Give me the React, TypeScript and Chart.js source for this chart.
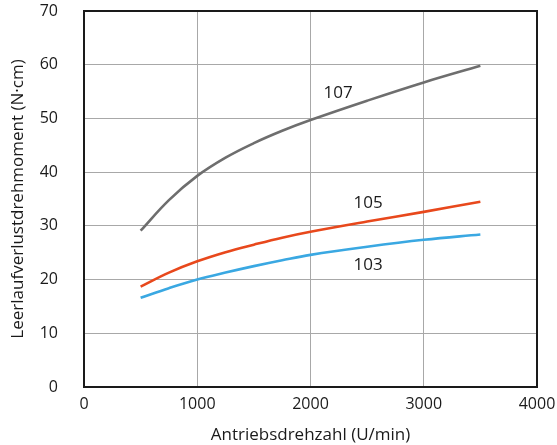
import React, { useEffect, useRef } from "react";
import { Chart, registerables } from "chart.js";

Chart.register(...registerables);

const speeds = [500, 750, 1000, 1250, 1500, 1750, 2000, 2500, 3000, 3500];
const torque107 = [29.1, 34.8, 39.3, 42.7, 45.4, 47.7, 49.7, 53.3, 56.7, 59.8];
const torque105 = [18.7, 21.3, 23.4, 25.1, 26.5, 27.8, 28.9, 30.8, 32.6, 34.5];
const torque103 = [16.6, 18.4, 20.0, 21.3, 22.5, 23.6, 24.6, 26.1, 27.4, 28.4];
const seriesNames = ["107", "105", "103"];
const seriesColors = ["#6e6e6e", "#e8481c", "#3aa8e2"];
const labelX = [2243, 2508, 2508];
const labelY = [54.7, 34.3, 22.7];
const FONT = "'Open Sans', 'Noto Sans', sans-serif";

export default function App() {
  const ref = useRef<HTMLCanvasElement>(null);
  useEffect(() => {
    document.body.style.margin = "0";
    const series = [torque107, torque105, torque103];
    const borderPlugin = {
      id: "frameAndLabels",
      afterDraw(chart: any) {
        const { ctx, chartArea: a, scales } = chart;
        ctx.save();
        ctx.strokeStyle = "#1a1a1a";
        ctx.lineWidth = 2;
        ctx.strokeRect(a.left, a.top, a.right - a.left, a.bottom - a.top);
        ctx.fillStyle = "#1a1a1a";
        ctx.font = `17px ${FONT}`;
        ctx.textAlign = "center";
        ctx.textBaseline = "middle";
        seriesNames.forEach((n, i) => {
          ctx.fillText(n, scales.x.getPixelForValue(labelX[i]), scales.y.getPixelForValue(labelY[i]));
        });
        ctx.restore();
      },
    };
    const chart = new Chart(ref.current!, {
      type: "line",
      data: {
        datasets: series.map((s, i) => ({
          label: seriesNames[i],
          data: speeds.map((x, j) => ({ x, y: s[j] })),
          borderColor: seriesColors[i],
          borderWidth: 2.6,
          pointRadius: 0,
          tension: 0.4,
          fill: false,
        })),
      },
      options: {
        animation: false,
        responsive: false,
        layout: { padding: { top: 11, right: 20, left: 0, bottom: 0 } },
        plugins: { legend: { display: false }, tooltip: { enabled: false } },
        scales: {
          x: {
            type: "linear",
            min: 0,
            max: 4000,
            ticks: {
              stepSize: 1000,
              color: "#1a1a1a",
              font: { family: FONT, size: 16 },
              padding: 8,
              maxRotation: 0,
              callback: (v: any) => String(v),
            },
            grid: { color: "#a8a8a8", lineWidth: 1, drawTicks: false },
            border: { display: false },
            title: { display: true, text: "Antriebsdrehzahl (U/min)", color: "#1a1a1a", font: { family: FONT, size: 17 }, padding: { top: 3, bottom: 0 } },
            afterFit(scale: any) {
              scale.height = 58;
              scale.paddingLeft = 0;
              scale.paddingRight = 0;
            },
          },
          y: {
            min: 0,
            max: 70,
            ticks: { stepSize: 10, color: "#1a1a1a", font: { family: FONT, size: 16 }, padding: 26, callback: (v: any) => String(v) },
            grid: { color: "#a8a8a8", lineWidth: 1, drawTicks: false },
            border: { display: false },
            title: { display: true, text: "Leerlaufverlustdrehmoment (N·cm)", color: "#1a1a1a", font: { family: FONT, size: 17 }, padding: { top: 8, bottom: 0 } },
            afterFit(scale: any) {
              scale.width = 84;
              scale.paddingTop = 0;
              scale.paddingBottom = 0;
            },
          },
        },
      },
      plugins: [borderPlugin],
    } as any);
    return () => chart.destroy();
  }, []);
  return (
    <div style={{ width: 557, height: 445 }}>
      <canvas ref={ref} width={557} height={445} style={{ width: 557, height: 445 }} />
    </div>
  );
}
